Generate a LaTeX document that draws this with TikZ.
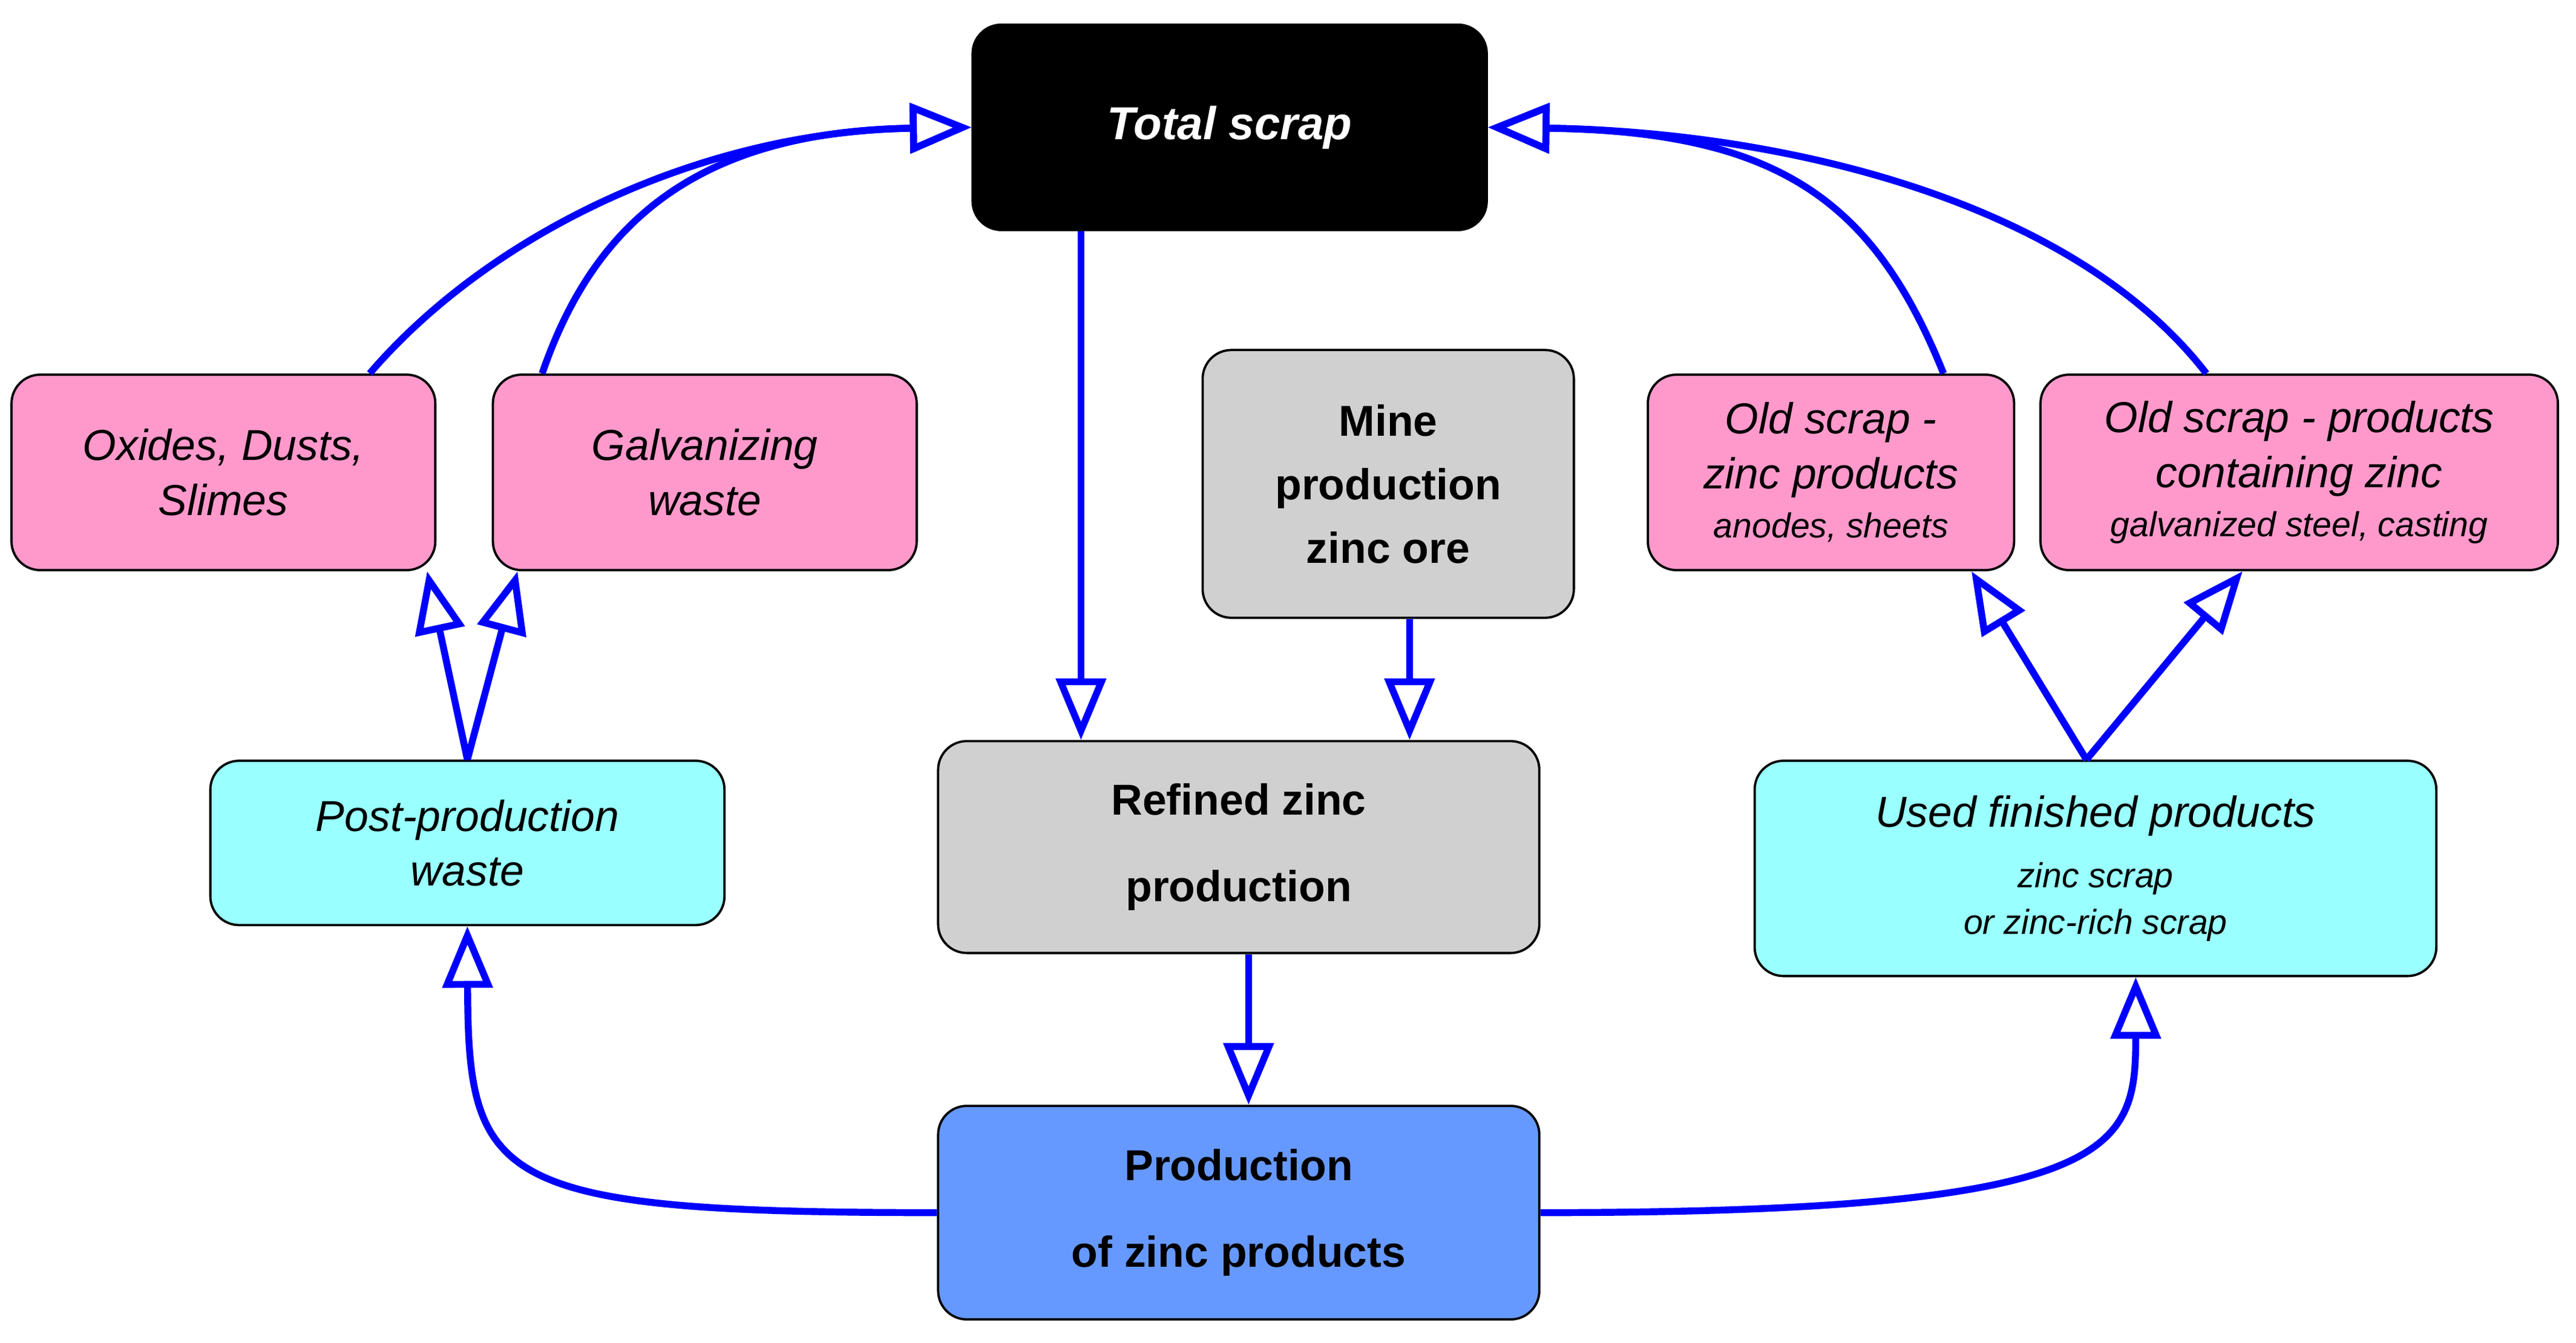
\documentclass[tikz,border=0pt]{standalone}
\usepackage{fontspec}
\setmainfont{Liberation Sans}
\usetikzlibrary{arrows.meta}
\definecolor{pinkbox}{HTML}{FF99CC}
\definecolor{greybox}{HTML}{D0D0D0}
\definecolor{cyanbox}{HTML}{99FFFF}
\definecolor{bluebox}{HTML}{6699FF}
\tikzset{
  box/.style={rectangle, rounded corners=0.35cm, draw=black, thick, align=center, font=\fontsize{15}{19}\selectfont\itshape},
  scrap/.style={box, fill=pinkbox},
  stage/.style={box, fill=greybox, font=\fontsize{15}{22}\selectfont\bfseries},
  used/.style={box, fill=cyanbox},
  flow/.style={line width=2.4pt, draw=blue, -{Triangle[open, length=0.75cm, width=0.6cm, line width=2.4pt]}},
}
\newcommand{\smalltext}[1]{{\fontsize{12}{14}\selectfont #1}}
\begin{document}
\begin{tikzpicture}[x=0.02cm, y=-0.02cm]
      \useasboundingbox (0,0) rectangle (1568,817);
      \node (total)   [box, fill=black, text=white, font=\fontsize{16}{19}\selectfont\bfseries\itshape, minimum width=6.26cm, minimum height=2.5cm] at (748.5,77.5) {Total scrap};

      \node (oxides)  [scrap, minimum width=5.16cm, minimum height=2.38cm] at (136,287.5) {Oxides, Dusts,\\Slimes};
      \node (galv)    [scrap, minimum width=5.16cm, minimum height=2.38cm] at (429,287.5) {Galvanizing\\waste};
      \node (mine)    [stage, minimum width=4.52cm, minimum height=3.26cm] at (845,294.5) {Mine\\production\\zinc ore};
      \node (oldzinc) [scrap, minimum width=4.46cm, minimum height=2.38cm] at (1114.5,287.5) {Old scrap -\\zinc products\\[-2pt]\smalltext{anodes, sheets}};
      \node (oldprod) [scrap, minimum width=6.3cm, minimum height=2.38cm] at (1399.5,287.5) {Old scrap - products\\containing zinc\\[-2pt]\smalltext{galvanized steel, casting}};

      \node (post)    [used, minimum width=6.26cm, minimum height=2cm] at (284.5,513) {Post-production\\waste};
      \node (refined) [stage, minimum width=7.32cm, minimum height=2.58cm, font=\fontsize{15}{30}\selectfont\bfseries] at (754,515.5) {Refined zinc\\production};
      \node (usedfin) [used, minimum width=8.3cm, minimum height=2.62cm] at (1275.5,528.5) {Used finished products\\[2pt]\smalltext{zinc scrap}\\[-3pt]\smalltext{or zinc-rich scrap}};
      \node (prod)    [stage, fill=bluebox, minimum width=7.32cm, minimum height=2.6cm, font=\fontsize{15}{30}\selectfont\bfseries] at (754,738) {Production\\of zinc products};

      \draw [flow] (oxides.north -| 225,0) .. controls (300,140) and (430,80) .. (total.west);
      \draw [flow] (galv.north -| 330,0) .. controls (360,140) and (420,80) .. (total.west);
      \draw [flow] (oldzinc.north -| 1183,0) .. controls (1140,120) and (1080,80) .. (total.east);
      \draw [flow] (oldprod.north -| 1343,0) .. controls (1260,120) and (1080,80) .. (total.east);

      \draw [flow] (total.south -| 658,0) -- (refined.north -| 658,0);
      \draw [flow] (mine.south -| 858,0) -- (refined.north -| 858,0);
      \draw [flow] (refined.south -| 760,0) -- (prod.north -| 760,0);

      \draw [flow] (prod.west) .. controls (300,738) and (285,720) .. (post.south);
      \draw [flow] (prod.east) .. controls (1290,738) and (1300,700) .. (usedfin.south -| 1300,0);

      \draw [flow] (post.north) -- (oxides.south -| 260,0);
      \draw [flow] (post.north) -- (galv.south -| 315,0);
      \draw [flow] (usedfin.north -| 1270,0) -- (oldzinc.south -| 1200,0);
      \draw [flow] (usedfin.north -| 1270,0) -- (oldprod.south -| 1365,0);
    \end{tikzpicture}
\end{document}
